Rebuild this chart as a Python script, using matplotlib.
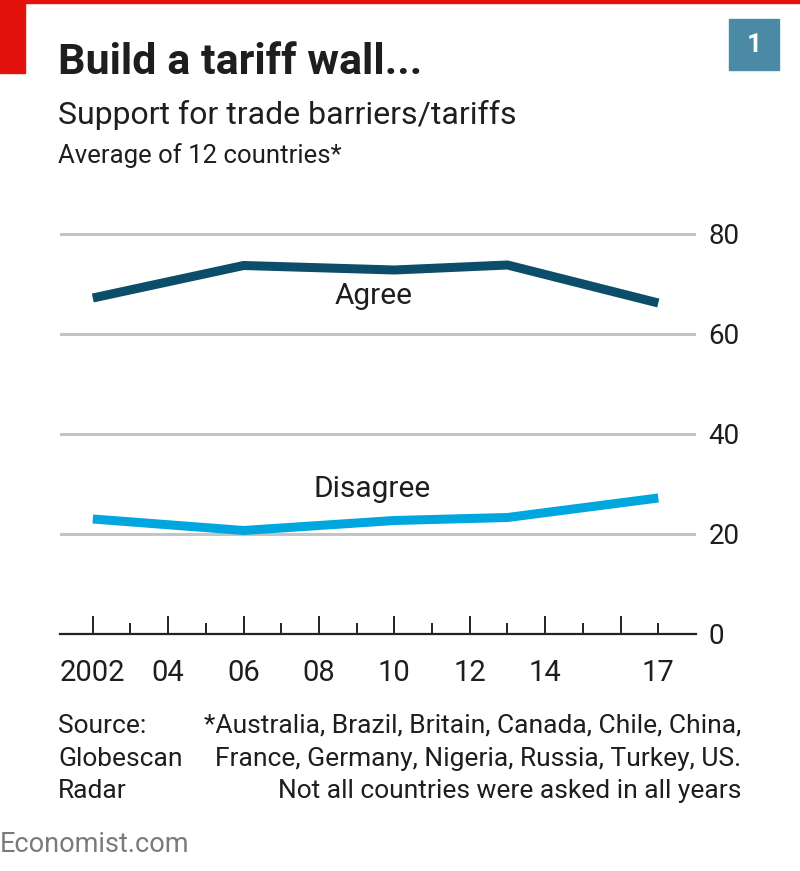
import numpy as np
import matplotlib
matplotlib.use("Agg")
from matplotlib import pyplot as plt
from matplotlib.patches import Rectangle

# data
years = [2002, 2006, 2010, 2013, 2017]
agree = [67.2, 73.7, 72.8, 73.8, 66.2]
disagree = [23.0, 20.7, 22.7, 23.3, 27.2]

major_years = [2002, 2004, 2006, 2008, 2010, 2012, 2014, 2016]
major_labels = ["2002", "04", "06", "08", "10", "12", "14", ""]
minor_years = [2003, 2005, 2007, 2009, 2011, 2013, 2015, 2017]
minor_labels = ["", "", "", "", "", "", "", "17"]
y_ticks = [0, 20, 40, 60, 80]

plt.rcParams["font.family"] = ["Roboto", "DejaVu Sans"]
dark = "#0c4e6a"
light = "#00a6de"
txt = "#1e1e1e"

W, H = 800, 871
fig = plt.figure(figsize=(W / 100, H / 100), dpi=100)

def fx(px):
	return px / W

def fy(py):
	return 1 - py / H

# red corner + top rule
fig.patches.append(Rectangle((0, fy(73)), fx(25), 73 / H, transform=fig.transFigure, color="#e3120b", zorder=5))
fig.patches.append(Rectangle((0, fy(3)), 1, 3 / H, transform=fig.transFigure, color="#e3120b", zorder=5))
# chart number box
fig.patches.append(Rectangle((fx(729), fy(70)), fx(50), 51 / H, transform=fig.transFigure, color="#4a8aa4", zorder=5))
fig.text(fx(754), fy(45), "1", color="white", fontsize=19, fontweight="bold", ha="center", va="center", zorder=6)

fig.text(fx(58), fy(74), "Build a tariff wall...", fontsize=31, fontweight="bold", color=txt, va="baseline")
fig.text(fx(58), fy(124), "Support for trade barriers/tariffs", fontsize=23, color=txt, va="baseline")
fig.text(fx(58), fy(163), "Average of 12 countries*", fontsize=18.5, color=txt, va="baseline")

ax = fig.add_axes([fx(60), fy(634), fx(696) - fx(60), (634 - 209) / H])
ax.set_xlim(2001.13, 2018.0)
ax.set_ylim(0, 85)

ax.plot(years, agree, color=dark, lw=6.5, solid_capstyle="butt", solid_joinstyle="miter", zorder=3)
ax.plot(years, disagree, color=light, lw=6.5, solid_capstyle="butt", solid_joinstyle="miter", zorder=3)
ax.text(2009.45, 67.6, "Agree", fontsize=21.5, color=txt, ha="center", va="center")
ax.text(2009.4, 29.0, "Disagree", fontsize=21.5, color=txt, ha="center", va="center")

ax.set_yticks(y_ticks)
ax.yaxis.tick_right()
ax.tick_params(axis="y", length=0, pad=9, labelsize=20, labelcolor=txt)
ax.grid(axis="y", color="#c4c4c4", lw=2.2)
ax.set_axisbelow(True)

ax.set_xticks(major_years, labels=major_labels)
ax.set_xticks(minor_years, labels=minor_labels, minor=True)
ax.tick_params(axis="x", which="both", direction="in", labelsize=21, labelcolor=txt, color="#222222", width=1.4, pad=18)
ax.tick_params(axis="x", which="major", length=13)
ax.tick_params(axis="x", which="minor", length=8)

for s in ["top", "left", "right"]:
	ax.spines[s].set_visible(False)
ax.spines["bottom"].set_color("#222222")
ax.spines["bottom"].set_linewidth(1.6)
ax.spines["bottom"].set_zorder(4)

# footnotes
fs = 19
fig.text(fx(58), fy(733), "Source:", fontsize=fs, color=txt, va="baseline")
fig.text(fx(58), fy(766), "Globescan", fontsize=fs, color=txt, va="baseline")
fig.text(fx(58), fy(798), "Radar", fontsize=fs, color=txt, va="baseline")
fig.text(fx(741), fy(733), "*Australia, Brazil, Britain, Canada, Chile, China,", fontsize=fs, color=txt, va="baseline", ha="right")
fig.text(fx(741), fy(766), "France, Germany, Nigeria, Russia, Turkey, US.", fontsize=fs, color=txt, va="baseline", ha="right")
fig.text(fx(741), fy(798), "Not all countries were asked in all years", fontsize=fs, color=txt, va="baseline", ha="right")
fig.text(fx(0), fy(852), "Economist.com", fontsize=19.5, color="#7a7a7a", va="baseline")

fig.savefig("out.png", dpi=100)
